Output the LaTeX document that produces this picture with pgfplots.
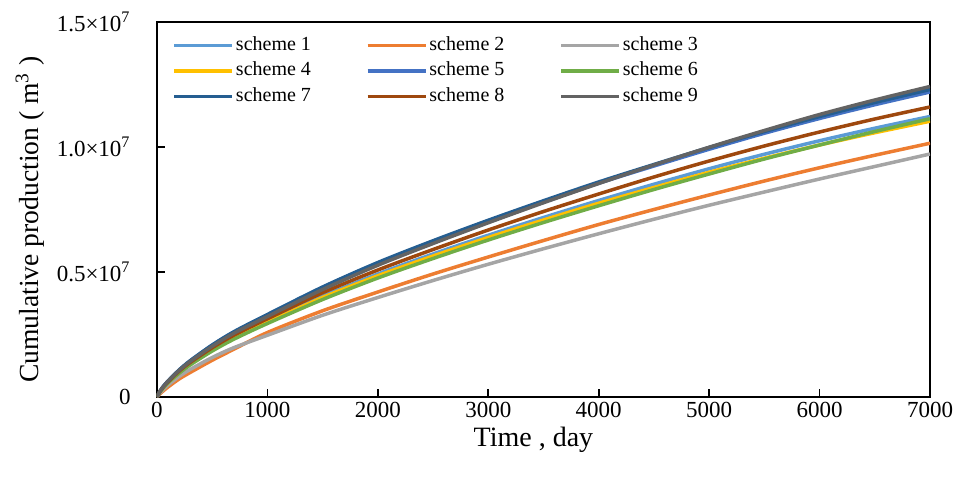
\documentclass[border=0pt]{standalone}
\usepackage{fontspec}
\setmainfont{Liberation Serif}
\usepackage{pgfplots}
\pgfplotsset{compat=1.18}
\usepackage{pgfplotstable}
\definecolor{c1}{HTML}{5B9BD5}
\definecolor{c2}{HTML}{ED7D31}
\definecolor{c3}{HTML}{A5A5A5}
\definecolor{c4}{HTML}{FFC000}
\definecolor{c5}{HTML}{4472C4}
\definecolor{c6}{HTML}{70AD47}
\definecolor{c7}{HTML}{255E91}
\definecolor{c8}{HTML}{9E480E}
\definecolor{c9}{HTML}{636363}
% values in 10^6 m^3
\pgfplotstableread{
t    s1    s2    s3    s4    s5    s6    s7    s8    s9
0    0     0     0     0     0     0     0     0     0
25   0.20  0.12  0.15  0.20  0.22  0.19  0.22  0.21  0.22
50   0.35  0.22  0.27  0.34  0.38  0.33  0.38  0.36  0.37
100  0.59  0.40  0.48  0.58  0.64  0.57  0.64  0.61  0.63
200  0.99  0.72  0.82  0.97  1.07  0.95  1.08  1.03  1.06
300  1.33  0.98  1.10  1.31  1.44  1.28  1.45  1.38  1.42
500  1.90  1.47  1.58  1.87  2.07  1.84  2.08  1.97  2.03
700  2.40  1.92  1.98  2.36  2.60  2.32  2.62  2.48  2.56
1000 3.03  2.58  2.47  2.99  3.28  2.94  3.30  3.13  3.22
1500 4.03  3.45  3.27  3.98  4.38  3.90  4.40  4.17  4.30
2000 4.92  4.20  3.98  4.85  5.35  4.76  5.38  5.08  5.27
2500 5.72  4.92  4.66  5.64  6.22  5.54  6.25  5.90  6.14
3000 6.47  5.60  5.31  6.38  7.03  6.28  7.07  6.68  6.97
3500 7.18  6.26  5.93  7.08  7.80  6.98  7.85  7.42  7.77
4000 7.86  6.90  6.53  7.75  8.55  7.65  8.60  8.12  8.54
4500 8.51  7.50  7.11  8.38  9.24  8.30  9.30  8.80  9.28
5000 9.13  8.08  7.67  8.99  9.91  8.92  9.98  9.44  9.99
5500 9.71  8.64  8.20  9.55  10.55 9.52  10.62 10.04 10.66
6000 10.25 9.17  8.72  10.08 11.14 10.08 11.22 10.60 11.30
6500 10.75 9.67  9.22  10.57 11.69 10.62 11.78 11.12 11.88
7000 11.22 10.15 9.72  11.03 12.20 11.13 12.30 11.60 12.42
}\data
\begin{document}
\begin{tikzpicture}
\begin{axis}[
  name=ax,
  scale only axis,
  width=386.5pt, height=187.5pt,
  xmin=0, xmax=7000, ymin=0, ymax=15,
  axis line style={line width=1pt},
  tick style={line width=0.8pt, black},
  tick align=inside,
  major tick length=4pt,
  xtick={0,1000,2000,3000,4000,5000,6000,7000},
  xticklabels={0,1000,2000,3000,4000,5000,6000,7000},
  ytick={0,5,10,15},
  yticklabels={0,0.5×10\textsuperscript{7},1.0×10\textsuperscript{7},1.5×10\textsuperscript{7}},
  xtick pos=bottom, ytick pos=left,
  tick label style={font=\fontsize{11.5}{13}\selectfont},
  yticklabel style={xshift=-9.7pt},
  xticklabel style={yshift=1pt},
  every axis y label/.style={at={(axis description cs:-0.164,0.473)},rotate=90,anchor=center,font=\fontsize{13.8}{16}\selectfont},
  every axis x label/.style={at={(axis description cs:0.487,-0.115)},anchor=center,font=\fontsize{14}{16}\selectfont},
  xlabel={Time , day},
  ylabel={Cumulative production ( m\textsuperscript{3} )},
  legend columns=3,
  legend cell align=left,
  legend image code/.code={\draw[#1] (0pt,0pt) -- (29pt,0pt);},
  legend style={at={(axis description cs:0.0195,0.973)}, anchor=north west,
    draw=none, fill=none, inner sep=0pt,
    font=\fontsize{10}{12}\selectfont,
    nodes={inner xsep=1pt, inner ysep=1.875pt, text height=7pt, text depth=2pt},
    /tikz/every even column/.append style={column sep=26.5pt}},
  every axis plot/.append style={line width=1.75pt, smooth},
]
\addplot[c1] table[x=t,y=s1]{\data};
\addlegendentry{scheme 1}
\addplot[c2] table[x=t,y=s2]{\data};
\addlegendentry{scheme 2}
\addplot[c3] table[x=t,y=s3]{\data};
\addlegendentry{scheme 3}
\addplot[c4] table[x=t,y=s4]{\data};
\addlegendentry{scheme 4}
\addplot[c5] table[x=t,y=s5]{\data};
\addlegendentry{scheme 5}
\addplot[c6] table[x=t,y=s6]{\data};
\addlegendentry{scheme 6}
\addplot[c7] table[x=t,y=s7]{\data};
\addlegendentry{scheme 7}
\addplot[c8] table[x=t,y=s8]{\data};
\addlegendentry{scheme 8}
\addplot[c9] table[x=t,y=s9]{\data};
\addlegendentry{scheme 9}
\end{axis}
\pgfresetboundingbox
\path[use as bounding box] ([shift={(-78.5pt,-42.5pt)}]ax.south west) rectangle ([shift={(13.5pt,11pt)}]ax.north east);
\end{tikzpicture}
\end{document}
